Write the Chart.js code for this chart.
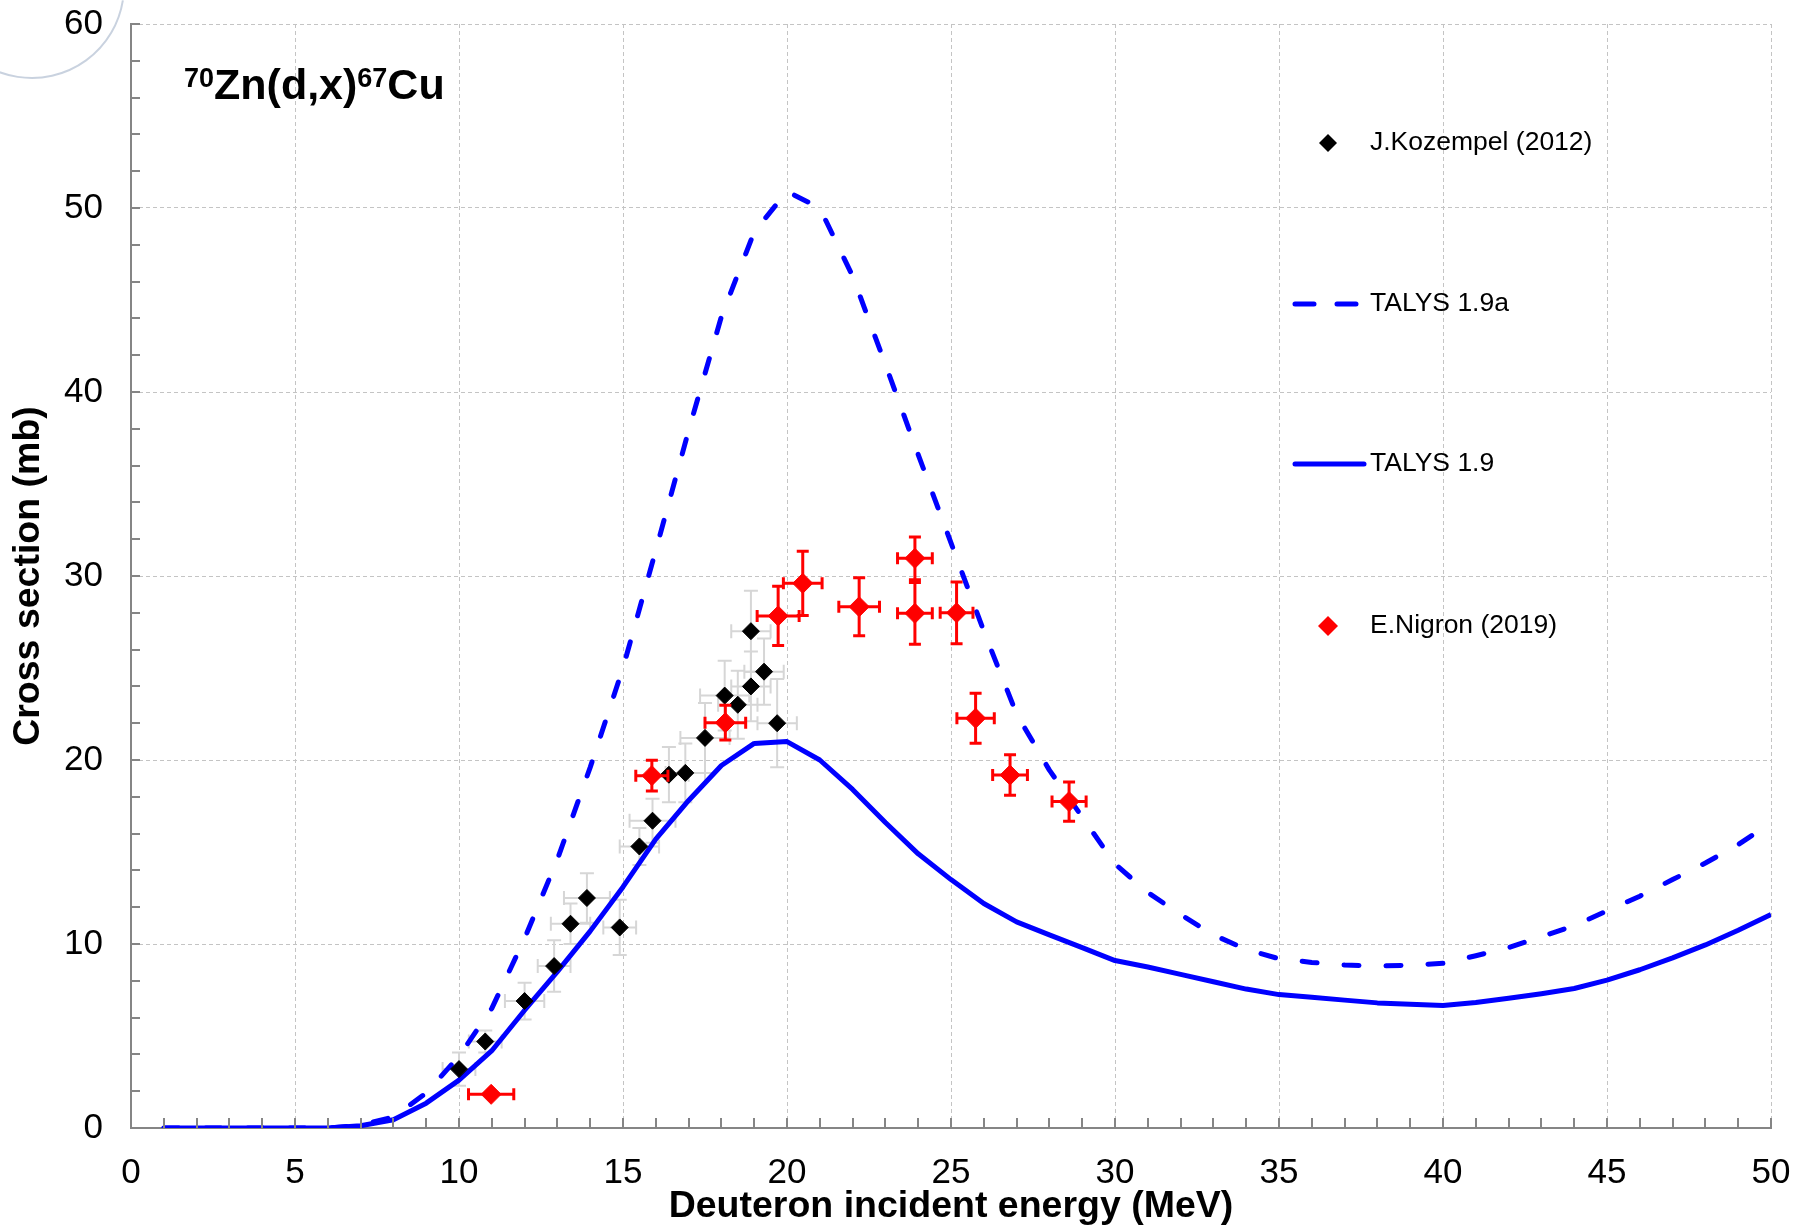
<!DOCTYPE html>
<html>
<head>
<meta charset="utf-8">
<script src="https://cdn.jsdelivr.net/npm/chart.js@4.4.1/dist/chart.umd.min.js"></script>
<style>
  html, body { margin: 0; padding: 0; background: #ffffff; }
  #wrap { width: 1810px; height: 1225px; }
</style>
</head>
<body>
<div id="wrap"><canvas id="c" width="1810" height="1225"></canvas></div>
<script>
// ---------- data ----------
const energyGrid = [1,2,3,4,5,6,7,8,9,10,11,12,13,14,15,16,17,18,19,20,21,22,23,24,25,26,27,28,29,30,31,32,33,34,35,36,37,38,39,40,41,42,43,44,45,46,47,48,49,50];
const talys19 = [0,0,0,0,0,0,0.12,0.45,1.35,2.6,4.2,6.4,8.5,10.7,13.1,15.7,17.8,19.7,20.9,21.0,20.0,18.4,16.6,14.9,13.5,12.2,11.2,10.5,9.8,9.1,8.75,8.35,7.95,7.55,7.25,7.1,6.95,6.8,6.72,6.66,6.82,7.05,7.3,7.58,8.04,8.6,9.25,9.95,10.75,11.6];
const talys19a = [0,0,0,0,0,0,0.15,0.6,1.9,3.9,6.5,10.3,14.6,19.6,25.0,31.4,37.9,44.1,48.7,50.9,50.0,46.3,41.5,36.6,31.8,27.0,22.5,19.45,16.9,14.35,12.8,11.6,10.5,9.7,9.2,9.0,8.86,8.8,8.85,8.95,9.36,9.8,10.4,11.0,11.8,12.6,13.5,14.4,15.4,16.6];

const kozE   = [10.0,10.8,12.0,12.9,13.4,13.9,14.9,15.5,15.9,16.4,16.9,17.5,18.1,18.5,18.9,18.9,19.3,19.7];
const kozXS  = [3.2,4.7,6.9,8.8,11.1,12.5,10.9,15.3,16.7,19.2,19.3,21.2,23.5,23.0,24.0,27.0,24.8,22.0];
const kozDE  = [0.5,0.5,0.6,0.5,0.6,0.7,0.5,0.6,0.7,0.6,0.6,0.75,0.75,0.6,0.6,0.6,0.6,0.6];
const kozDXS = [0.9,0.6,1.0,1.4,1.1,1.35,1.5,1.0,1.2,1.5,1.6,1.9,1.9,1.85,1.9,2.2,1.8,2.4];

const nigE   = [10.98,15.88,18.12,19.73,20.48,22.2,23.9,23.9,25.17,25.75,26.8,28.6];
const nigXS  = [1.83,19.15,22.03,27.83,29.6,28.33,30.96,27.97,28.0,22.27,19.18,17.74];
const nigDE  = [0.69,0.49,0.62,0.64,0.59,0.62,0.53,0.53,0.5,0.57,0.53,0.52];
const nigDXS = [0,0.83,0.94,1.61,1.75,1.58,1.16,1.68,1.68,1.36,1.1,1.07];

const seriesNames = ['J.Kozempel (2012)', 'TALYS 1.9a', 'TALYS 1.9', 'E.Nigron (2019)'];
const xAxisTitle = 'Deuteron incident energy (MeV)';
const yAxisTitle = 'Cross section (mb)';
const titleParts = [['70', true], ['Zn(d,x)', false], ['67', true], ['Cu', false]];

// ---------- helpers ----------
const FONT = "'Liberation Sans', Arial, Helvetica, sans-serif";
const zip = (xs, ys) => xs.map((x, i) => ({x: x, y: ys[i]}));

function drawBars(chart, xs, ys, dxs, dys, color, width, cap) {
  const ctx = chart.ctx, sx = chart.scales.x, sy = chart.scales.y;
  ctx.save();
  ctx.strokeStyle = color;
  ctx.lineWidth = width;
  ctx.lineCap = 'butt';
  for (let i = 0; i < xs.length; i++) {
    const px = sx.getPixelForValue(xs[i]);
    const py = sy.getPixelForValue(ys[i]);
    const x1 = sx.getPixelForValue(xs[i] - dxs[i]);
    const x2 = sx.getPixelForValue(xs[i] + dxs[i]);
    const y1 = sy.getPixelForValue(ys[i] - dys[i]);
    const y2 = sy.getPixelForValue(ys[i] + dys[i]);
    ctx.beginPath();
    ctx.moveTo(x1, py); ctx.lineTo(x2, py);
    ctx.moveTo(x1, py - cap); ctx.lineTo(x1, py + cap);
    ctx.moveTo(x2, py - cap); ctx.lineTo(x2, py + cap);
    if (dys[i] > 0) {
      ctx.moveTo(px, y1); ctx.lineTo(px, y2);
      ctx.moveTo(px - cap, y1); ctx.lineTo(px + cap, y1);
      ctx.moveTo(px - cap, y2); ctx.lineTo(px + cap, y2);
    }
    ctx.stroke();
  }
  ctx.restore();
}

const errorBarPlugin = {
  id: 'errorBars',
  beforeDatasetsDraw(chart) {
    drawBars(chart, kozE, kozXS, kozDE, kozDXS, '#d6d6d6', 2, 7);
  },
  beforeDatasetDraw(chart, args) {
    if (args.index === 0) drawBars(chart, nigE, nigXS, nigDE, nigDXS, '#ff0000', 3, 6);
  }
};

const decorPlugin = {
  id: 'decor',
  beforeDraw(chart) {
    const ctx = chart.ctx;
    ctx.save();
    ctx.strokeStyle = 'rgba(195,205,220,0.9)';
    ctx.lineWidth = 2;
    ctx.beginPath();
    ctx.arc(32, -14, 92, 0.05 * Math.PI, 0.99 * Math.PI);
    ctx.stroke();
    ctx.restore();
  },
  afterDraw(chart) {
    const ctx = chart.ctx, sx = chart.scales.x, sy = chart.scales.y, a = chart.chartArea;
    ctx.save();
    // inward tick marks
    ctx.strokeStyle = '#858585';
    ctx.lineWidth = 2;
    ctx.beginPath();
    for (let v = 0; v <= 50; v += 1) {
      const px = Math.round(sx.getPixelForValue(v));
      ctx.moveTo(px, a.bottom); ctx.lineTo(px, a.bottom - 10);
    }
    for (let v = 0; v <= 60; v += 2) {
      const py = Math.round(sy.getPixelForValue(v));
      ctx.moveTo(a.left, py); ctx.lineTo(a.left + 9, py);
    }
    ctx.stroke();

    // title with superscripts
    let tx = 184;
    const base = 99;
    for (const [txt, sup] of titleParts) {
      ctx.font = 'bold ' + (sup ? 27 : 43) + 'px ' + FONT;
      ctx.fillStyle = '#000';
      ctx.textBaseline = 'alphabetic';
      ctx.textAlign = 'left';
      ctx.fillText(txt, tx, sup ? base - 12 : base);
      tx += ctx.measureText(txt).width;
    }

    // legend
    ctx.font = '26.5px ' + FONT;
    ctx.textBaseline = 'middle';
    ctx.textAlign = 'left';
    const lx = 1370;
    const ly = [143, 304, 464, 626];
    // Kozempel marker
    ctx.fillStyle = '#000';
    ctx.beginPath();
    ctx.moveTo(1328 - 9, ly[0]); ctx.lineTo(1328, ly[0] - 9); ctx.lineTo(1328 + 9, ly[0]); ctx.lineTo(1328, ly[0] + 9);
    ctx.closePath(); ctx.fill();
    // TALYS 1.9a dashed
    ctx.strokeStyle = '#0000ff';
    ctx.lineWidth = 5;
    ctx.lineCap = 'round';
    ctx.beginPath();
    ctx.moveTo(1295, ly[1]); ctx.lineTo(1314, ly[1]);
    ctx.moveTo(1337, ly[1]); ctx.lineTo(1356, ly[1]);
    ctx.stroke();
    // TALYS 1.9 solid
    ctx.beginPath();
    ctx.moveTo(1295, ly[2]); ctx.lineTo(1364, ly[2]);
    ctx.stroke();
    // Nigron marker
    ctx.fillStyle = '#ff0000';
    ctx.beginPath();
    ctx.moveTo(1328 - 10, ly[3]); ctx.lineTo(1328, ly[3] - 10); ctx.lineTo(1328 + 10, ly[3]); ctx.lineTo(1328, ly[3] + 10);
    ctx.closePath(); ctx.fill();
    ctx.fillStyle = '#000';
    for (let i = 0; i < seriesNames.length; i++) ctx.fillText(seriesNames[i], lx, ly[i]);
    ctx.restore();
  }
};

const gridX = { color: '#c4c4c4', lineWidth: 1, drawTicks: true, tickLength: 24, tickColor: 'rgba(0,0,0,0)' };
const gridY = { color: '#c4c4c4', lineWidth: 1, drawTicks: true, tickLength: 28, tickColor: 'rgba(0,0,0,0)' };
const borderCommon = { display: true, color: '#858585', width: 2, dash: [4, 3] };

new Chart(document.getElementById('c'), {
  data: {
    datasets: [
      { type: 'scatter', label: seriesNames[3], data: zip(nigE, nigXS), order: 0,
        pointStyle: 'rectRot', pointRadius: 10, pointBackgroundColor: '#ff0000', pointBorderColor: '#ff0000', pointBorderWidth: 1 },
      { type: 'scatter', label: seriesNames[0], data: zip(kozE, kozXS), order: 1,
        pointStyle: 'rectRot', pointRadius: 8.5, pointBackgroundColor: '#000000', pointBorderColor: '#000000', pointBorderWidth: 1 },
      { type: 'line', label: seriesNames[2], data: zip(energyGrid, talys19), order: 2,
        borderColor: '#0000ff', borderWidth: 5, pointRadius: 0, tension: 0, fill: false, borderJoinStyle: 'round' },
      { type: 'line', label: seriesNames[1], data: zip(energyGrid, talys19a), order: 3,
        borderColor: '#0000ff', borderWidth: 5, pointRadius: 0, tension: 0, fill: false,
        borderDash: [15, 27], borderCapStyle: 'round', borderJoinStyle: 'round' }
    ]
  },
  options: {
    responsive: false,
    animation: false,
    layout: { padding: { left: 0, right: 39, top: 24, bottom: 0 } },
    plugins: { legend: { display: false }, tooltip: { enabled: false } },
    scales: {
      x: {
        type: 'linear', min: 0, max: 50,
        ticks: { stepSize: 5, color: '#000', font: { family: FONT, size: 35 }, padding: 0, maxRotation: 0, autoSkip: false },
        grid: gridX, border: borderCommon,
        title: { display: true, text: xAxisTitle, color: '#000',
                 font: { family: FONT, size: 37.5, weight: 'bold', lineHeight: 1 }, padding: { top: 0, bottom: 0 } },
        afterFit(s) { s.height = 97; }
      },
      y: {
        type: 'linear', min: 0, max: 60,
        ticks: { stepSize: 10, color: '#000', font: { family: FONT, size: 35 }, padding: 0 },
        grid: gridY, border: borderCommon,
        title: { display: true, text: yAxisTitle, color: '#000',
                 font: { family: FONT, size: 37.5, weight: 'bold', lineHeight: 1 }, padding: { top: 10, bottom: 0 } },
        afterFit(s) { s.width = 131; }
      }
    }
  },
  plugins: [errorBarPlugin, decorPlugin]
});
</script>
</body>
</html>
